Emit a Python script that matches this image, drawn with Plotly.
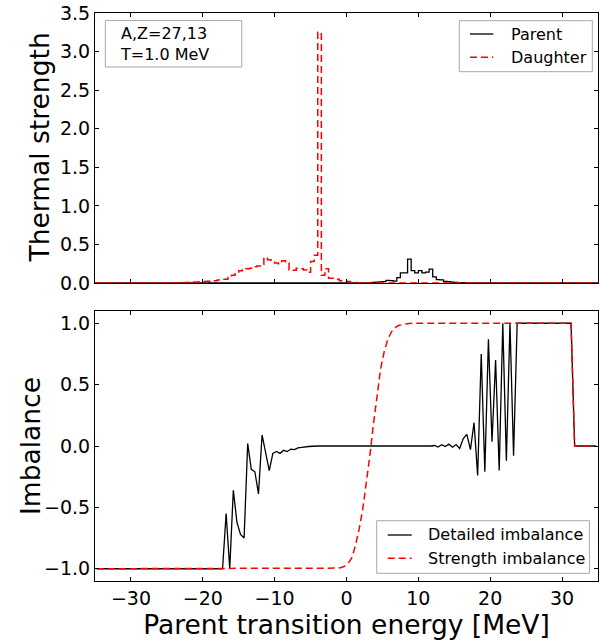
import plotly.graph_objects as go
from plotly.subplots import make_subplots

# ---------------- data ----------------
BIN_WIDTH = 0.5
HIST_START = -35.0

# Thermal strength histograms (0.5 MeV bins), listed from the first non-zero bin
parent_first_edge = 3.0
parent_strength = [0.005, 0.008, 0.012, 0.015, 0.018, 0.035, 0.03, 0.025,
                   0.07, 0.13, 0.13, 0.31, 0.16, 0.13, 0.16, 0.13, 0.14, 0.18,
                   0.08, 0.045, 0.04, 0.02, 0.018, 0.012, 0.008, 0.005, 0.003, 0.002]

daughter_first_edge = -23.0
daughter_strength = [0.005, 0.008, 0.01, 0.012, 0.014, 0.016, 0.02, 0.024,
                     0.026, 0.03, 0.04, 0.048, 0.05, 0.07, 0.10, 0.12, 0.16,
                     0.18, 0.185, 0.19, 0.21, 0.22, 0.24, 0.33, 0.30, 0.27,
                     0.26, 0.25, 0.29, 0.26, 0.17, 0.165, 0.19, 0.185, 0.17,
                     0.14, 0.28, 0.36, 3.25, 0.10, 0.185, 0.06, 0.06, 0.05,
                     0.03, 0.03, 0.02, 0.01, 0.005]

# Imbalance curves (bin centres)
detailed_x = [-34.75, -17.25, -16.75, -16.25, -15.75, -15.25, -14.75, -14.25,
              -13.75, -13.25, -12.75, -12.25, -11.75, -11.25, -10.75, -10.25,
              -9.75, -9.25, -8.75, -8.25, -7.75, -7.25, -6.75, -6.25, -5.75,
              -5.25, -4.75, -4.25, -3.75, 11.75, 12.25, 12.75, 13.25, 13.75,
              14.25, 14.75, 15.25, 15.75, 16.25, 16.75, 17.25, 17.75, 18.25,
              18.75, 19.25, 19.75, 20.25, 20.75, 21.25, 21.75, 22.25, 22.75,
              23.25, 23.75, 31.25, 31.75, 34.75]
detailed_y = [-1.0, -1.0, -0.55, -1.0, -0.36, -0.62, -0.72, -0.75,
              0.02, -0.19, -0.21, -0.39, 0.09, -0.05, -0.2, -0.06,
              -0.045, -0.06, -0.035, -0.045, -0.025, -0.03, -0.015, -0.012, -0.006,
              -0.004, -0.002, -0.001, 0.0, 0.0, 0.004, -0.008, 0.01, -0.005,
              0.015, -0.01, 0.012, -0.02, 0.06, 0.095, -0.03, 0.19, -0.24,
              0.75, -0.21, 0.87, 0.035, 0.70, -0.20, 1.0, -0.12, 1.0,
              -0.08, 1.0, 1.0, 0.0, 0.0]

strength_x = [-34.75, -2.25, -1.75, -1.25, -0.75, -0.25, 0.25, 0.75, 1.25,
              1.75, 2.25, 2.75, 3.25, 3.75, 4.25, 4.75, 5.25, 5.75, 6.25,
              6.75, 7.25, 7.75, 8.25, 8.75, 9.25, 31.25, 31.75, 34.75]
strength_y = [-1.0, -1.0, -0.998, -0.995, -0.99, -0.98, -0.955, -0.91, -0.81,
              -0.68, -0.52, -0.32, -0.08, 0.18, 0.42, 0.63, 0.77, 0.87, 0.93,
              0.965, 0.982, 0.99, 0.995, 0.998, 1.0, 1.0, 0.0, 0.0]

x_ticks = [-30, -20, -10, 0, 10, 20, 30]
strength_ticks = [0.0, 0.5, 1.0, 1.5, 2.0, 2.5, 3.0, 3.5]
imbalance_ticks = [-1.0, -0.5, 0.0, 0.5, 1.0]

top_legend_labels = ["Parent", "Daughter"]
bottom_legend_labels = ["Detailed imbalance", "Strength imbalance"]
info_text = "A,Z=27,13<br>T=1.0 MeV"


def full_hist(first_edge, vals):
    """Pad listed bins with empty bins over [-35, 35] and build step coordinates."""
    n_total = int(round(70 / BIN_WIDTH))
    start_idx = int(round((first_edge - HIST_START) / BIN_WIDTH))
    counts = [0.0] * n_total
    for i, v in enumerate(vals):
        counts[start_idx + i] = v
    edges = [HIST_START + BIN_WIDTH * i for i in range(n_total + 1)]
    xs = [edges[0]] + edges[:-1] + [edges[-1], edges[-1]]
    ys = [0.0] + counts + [counts[-1], 0.0]
    return xs, ys


px, py = full_hist(parent_first_edge, parent_strength)
dx, dy = full_hist(daughter_first_edge, daughter_strength)

FONT = "DejaVu Sans"
RED = "#ff0000"
DASH = "7px,4px"
BOX = "#a8a8a8"

fig = make_subplots(rows=2, cols=1, vertical_spacing=0.0)

fig.add_trace(go.Scatter(x=px, y=py, mode="lines", line=dict(color="black", width=1.3, shape="hv"),
                         name="Parent"), row=1, col=1)
fig.add_trace(go.Scatter(x=dx, y=dy, mode="lines", line=dict(color=RED, width=1.5, shape="hv", dash=DASH),
                         name="Daughter"), row=1, col=1)
fig.add_trace(go.Scatter(x=detailed_x, y=detailed_y, mode="lines", line=dict(color="black", width=1.3),
                         name="Detailed imbalance"), row=2, col=1)
fig.add_trace(go.Scatter(x=strength_x, y=strength_y, mode="lines", line=dict(color=RED, width=1.5, dash=DASH),
                         name="Strength imbalance"), row=2, col=1)

axis_common = dict(showline=True, linecolor="black", linewidth=1, mirror="allticks",
                   ticks="inside", ticklen=4, tickwidth=1, tickcolor="black",
                   showgrid=False, zeroline=False, automargin=False,
                   tickfont=dict(family=FONT, size=19, color="black"))

fig.update_xaxes(range=[-35, 35], tickvals=x_ticks, **axis_common)
fig.update_xaxes(showticklabels=False, row=1, col=1)
fig.update_xaxes(title=dict(text="Parent transition energy [MeV]", font=dict(family=FONT, size=26.5, color="black"),
                            standoff=3), row=2, col=1)
fig.update_yaxes(range=[0, 3.5], tickvals=strength_ticks, tickformat=".1f", row=1, col=1, **axis_common)
fig.update_yaxes(range=[-1.1, 1.1], tickvals=imbalance_ticks, tickformat=".1f", row=2, col=1, **axis_common)

# plot area: x 95..598, top panel 13..283, bottom panel 311..581
fig.update_layout(
    width=599, height=643,
    margin=dict(l=95, r=1, t=13, b=62, autoexpand=False),
    plot_bgcolor="white", paper_bgcolor="white",
    font=dict(family=FONT, size=16, color="black"),
    showlegend=False,
)
fig.update_layout(yaxis=dict(domain=[(581 - 283) / 568, 1.0]), yaxis2=dict(domain=[0.0, 270 / 568]))

# y-axis titles
fig.add_annotation(xref="paper", yref="y domain", x=(38.5 - 95) / 503, y=0.5, xanchor="center", yanchor="middle",
                   textangle=-90, showarrow=False, text="Thermal strength",
                   font=dict(family=FONT, size=26.5, color="black"))
fig.add_annotation(xref="paper", yref="y2 domain", x=(30 - 95) / 503, y=0.5, xanchor="center", yanchor="middle",
                   textangle=-90, showarrow=False, text="Imbalance",
                   font=dict(family=FONT, size=26.5, color="black"))

# ---- info box in top panel ----
fig.add_shape(type="rect", xref="x domain", yref="y domain",
              x0=0.0205, x1=0.2917, y0=0.80, y1=0.972,
              line=dict(color=BOX, width=1), fillcolor="white", layer="above")
fig.add_annotation(xref="x domain", yref="y domain", x=0.046, y=0.887,
                   xanchor="left", yanchor="middle", align="left", showarrow=False,
                   text=info_text, font=dict(family=FONT, size=16, color="black"))


# ---- legends drawn as boxes with sample lines ----
def draw_legend(xr, yr, box, line_x, text_x, rows, labels):
    fig.add_shape(type="rect", xref=xr, yref=yr, x0=box[0], x1=box[1], y0=box[2], y1=box[3],
                  line=dict(color=BOX, width=1), fillcolor="white", layer="above")
    styles = [dict(color="black", width=1.3), dict(color=RED, width=1.5, dash=DASH)]
    for yv, lab, st in zip(rows, labels, styles):
        fig.add_shape(type="line", xref=xr, yref=yr, x0=line_x[0], x1=line_x[1], y0=yv, y1=yv,
                      line=st, layer="above")
        fig.add_annotation(xref=xr, yref=yr, x=text_x, y=yv, xanchor="left", yanchor="middle",
                           showarrow=False, text=lab, font=dict(family=FONT, size=16, color="black"))


draw_legend("x domain", "y domain", (0.7243, 0.9887, 0.7826, 0.9715), (0.7455, 0.7918), 0.824,
            (0.9222, 0.8359), top_legend_labels)
draw_legend("x2 domain", "y2 domain", (0.560, 0.983, 0.0285, 0.2233), (0.5819, 0.6296), 0.659,
            (0.1704, 0.0841), bottom_legend_labels)

fig.write_html("out.html", config={"displayModeBar": False},
               post_script="document.body.style.margin='0';document.body.style.overflow='hidden';")
